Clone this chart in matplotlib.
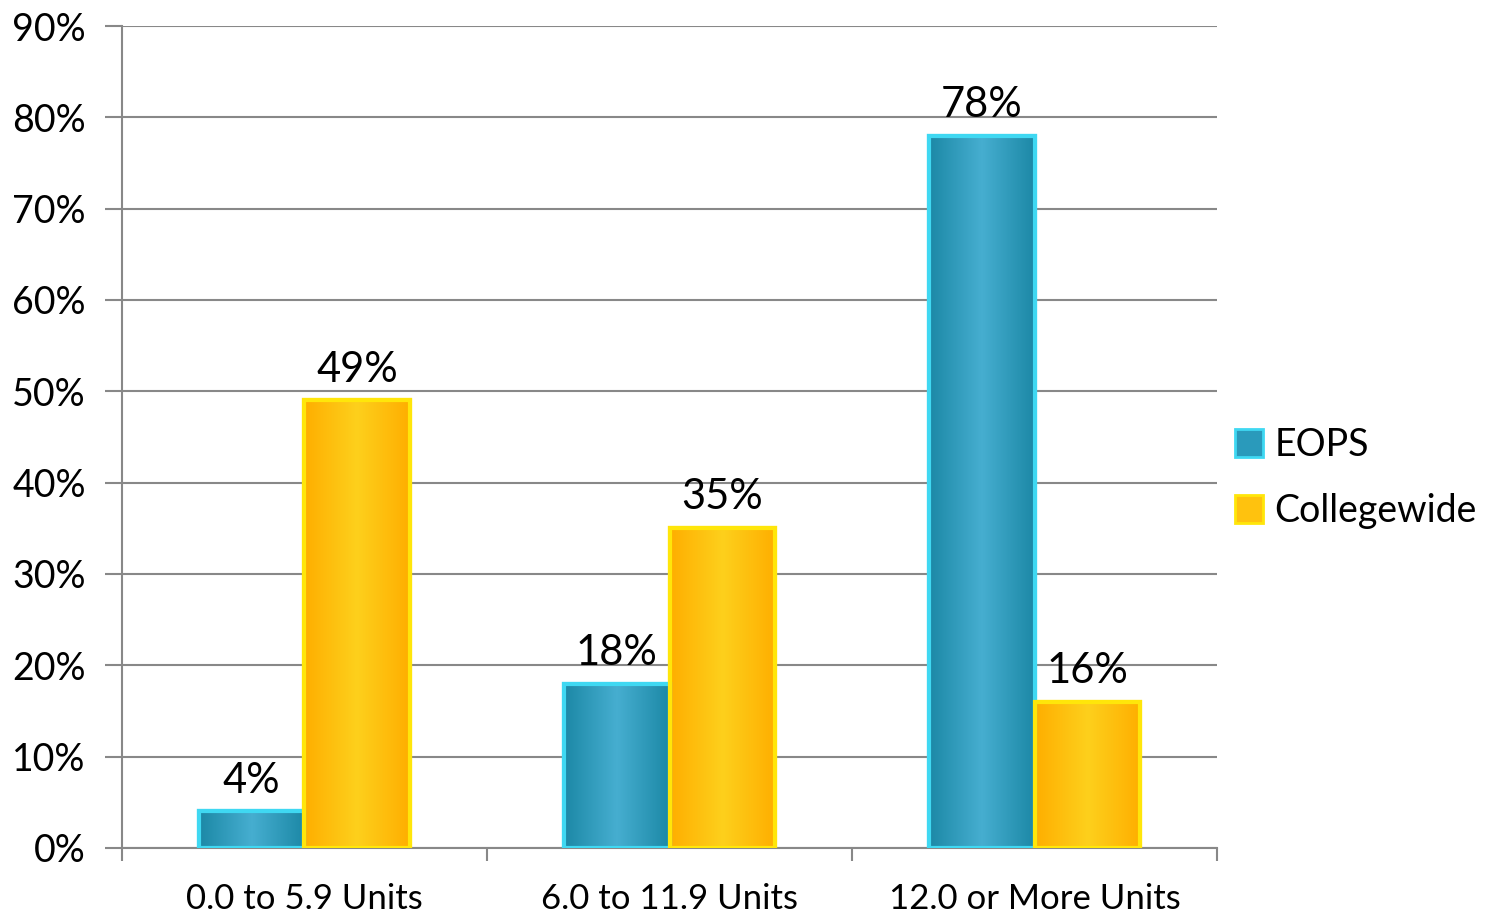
import numpy as np
import matplotlib.pyplot as plt
from matplotlib.colors import LinearSegmentedColormap
from matplotlib.patches import Patch

categories = ["0.0 to 5.9 Units", "6.0 to 11.9 Units", "12.0 or More Units"]
eops = [4, 18, 78]
collegewide = [49, 35, 16]
series_names = ["EOPS", "Collegewide"]

plt.rcParams['font.family'] = ['Lato', 'DejaVu Sans']

fig = plt.figure(figsize=(15.02, 9.19), dpi=100)
ax = fig.add_axes([0.0812, 0.0773, 0.7291, 0.8944])

x = np.arange(len(categories)) + 0.5
w = 0.29

teal_cmap = LinearSegmentedColormap.from_list("teal", ["#1c88a6", "#46aed0", "#1c88a6"])
gold_cmap = LinearSegmentedColormap.from_list("gold", ["#ffae00", "#fdd01c", "#ffae00"])

bars1 = ax.bar(x - w / 2, eops, w, color="#2a9abb", edgecolor="#3fd8f2", linewidth=3, zorder=3)
bars2 = ax.bar(x + w / 2, collegewide, w, color="#ffc20e", edgecolor="#ffe60a", linewidth=3, zorder=3)

grad = np.linspace(0, 1, 256).reshape(1, -1)
for bars, cmap in [(bars1, teal_cmap), (bars2, gold_cmap)]:
    for b in bars:
        x0, y0 = b.get_x(), b.get_y()
        im = ax.imshow(grad, cmap=cmap, aspect='auto', zorder=3.5,
                       extent=[x0, x0 + b.get_width(), y0, y0 + b.get_height()])
        im.set_clip_path(b)
        # redraw the edge on top of the gradient
        ax.add_patch(plt.Rectangle((x0, y0), b.get_width(), b.get_height(), fill=False,
                                   edgecolor=b.get_edgecolor(), linewidth=3, zorder=4))
        ax.text(x0 + b.get_width() / 2, b.get_height() + 1.3, f"{b.get_height():.0f}%",
                ha='center', va='bottom', fontsize=30, zorder=5)

ax.set_xlim(0, 3)
ax.set_ylim(0, 90)
ax.set_yticks(np.arange(0, 91, 10))
ax.set_yticklabels([f"{v}%" for v in range(0, 91, 10)], fontsize=27)
ax.set_xticks(x)
ax.set_xticklabels(categories, fontsize=25)
ax.set_xticks([0, 1, 2, 3], minor=True)
ax.tick_params(axis='x', which='major', length=0, pad=25)
ax.tick_params(axis='x', which='minor', length=9, color="#888888", width=1.5)
ax.tick_params(axis='y', length=12, color="#888888", width=1.5, pad=14)

ax.yaxis.grid(True, color="#888888", linewidth=1.5, zorder=0)
ax.set_axisbelow(True)
for s in ["top", "right"]:
    ax.spines[s].set_visible(False)
ax.spines["left"].set_color("#888888")
ax.spines["bottom"].set_color("#888888")
ax.spines["left"].set_linewidth(1.5)
ax.spines["bottom"].set_linewidth(1.5)

handles = [Patch(facecolor="#2a9abb", edgecolor="#3fd8f2", linewidth=2),
           Patch(facecolor="#ffc20e", edgecolor="#ffe60a", linewidth=2)]
fig.legend(handles, series_names, loc='center left', bbox_to_anchor=(0.8, 0.48),
           frameon=False, fontsize=27, handlelength=0.75, handleheight=0.75,
           handletextpad=0.3, labelspacing=0.8)

fig.savefig("out.png", dpi=100)
